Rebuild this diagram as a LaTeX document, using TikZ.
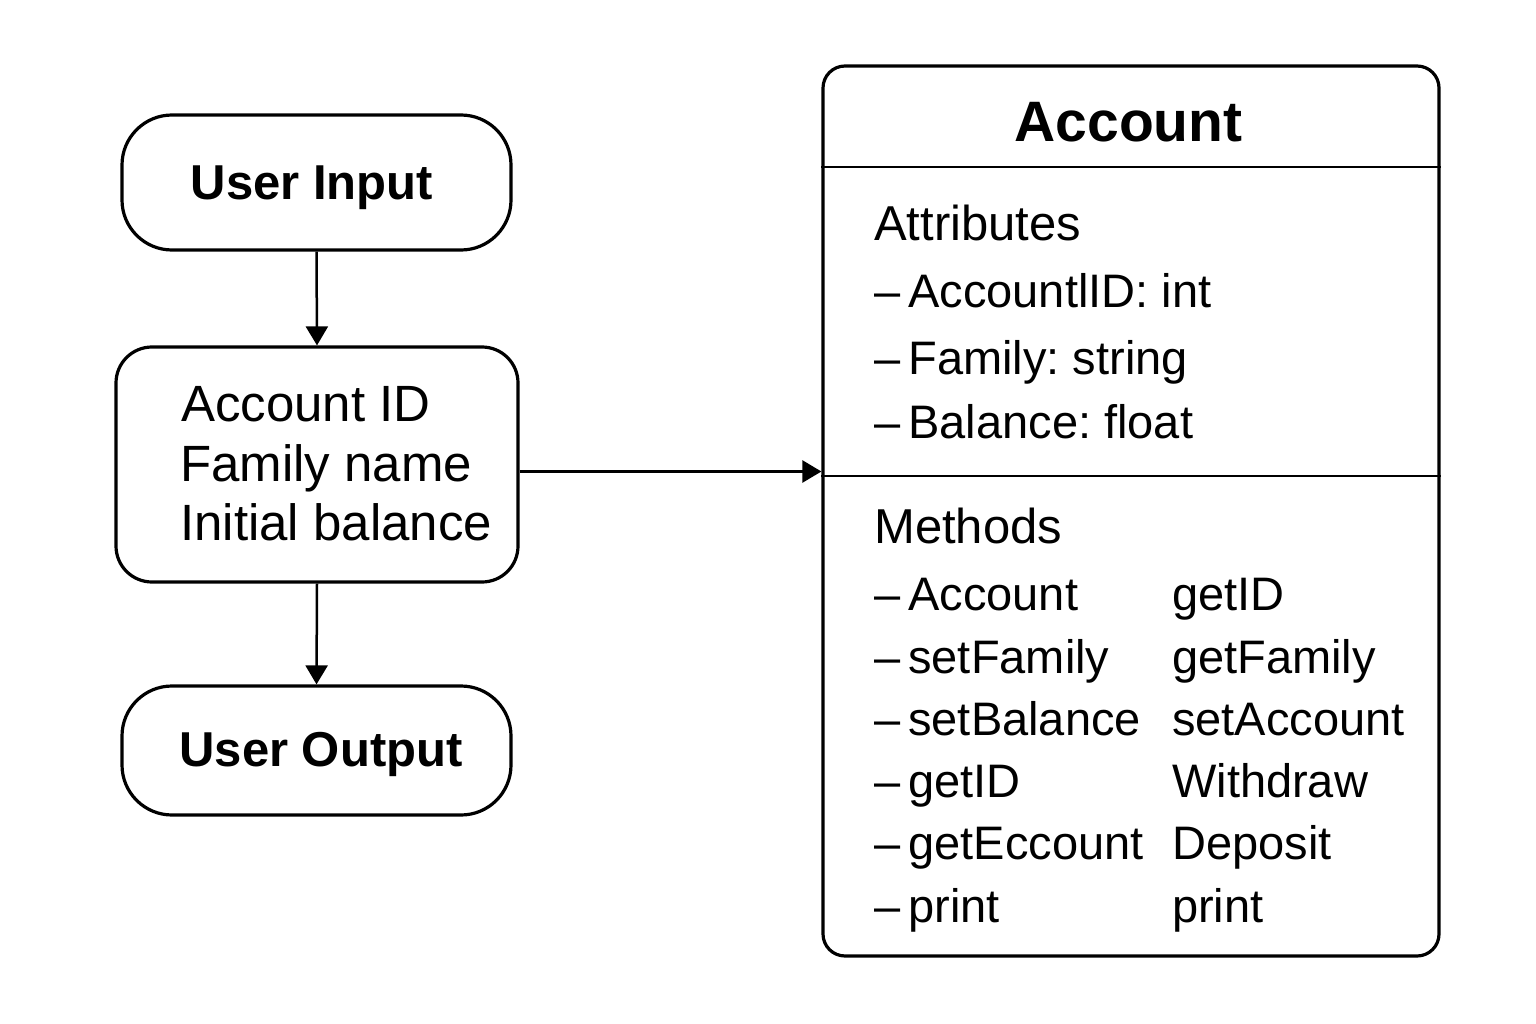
\documentclass[tikz,border=0pt]{standalone}
\usepackage{fontspec}
\setmainfont{Liberation Sans}
\usetikzlibrary{arrows.meta}
\frenchspacing
\newcommand{\itemdash}{–\hspace{8pt}}
\begin{document}
\frenchspacing
\begin{tikzpicture}[x=1pt,y=-1pt,
  boxline/.style={draw=black, line width=3.2pt, inner sep=0pt},
  arr/.style={line width=2.5pt, -{Triangle[length=19pt,width=22pt]}},
  sepline/.style={line width=2.8pt},
  lbl/.style={anchor=base west, inner sep=0pt, font=\fontsize{47}{56}\selectfont},
  hdr/.style={anchor=base west, inner sep=0pt, font=\fontsize{49}{58}\selectfont},
  midtxt/.style={anchor=base west, inner sep=0pt, font=\fontsize{51}{60}\selectfont},
  boldtxt/.style={anchor=base, inner sep=0pt, font=\bfseries\fontsize{49}{58}\selectfont},
  titletxt/.style={anchor=base, inner sep=0pt, font=\bfseries\fontsize{57}{66}\selectfont}
]
\fill[white] (0,0) rectangle (1536,1024);
\useasboundingbox (0,0) rectangle (1536,1024);

% left column boxes
\node[boxline, rounded corners=50pt, minimum width=389pt, minimum height=135pt] (ui) at (316.5,182.5) {};
\node[boldtxt] (uitxt) at (312,200) {User Input};

\node[boxline, rounded corners=36pt, minimum width=402pt, minimum height=235pt] (mid) at (317,464.5) {};
\node[midtxt] (m1) at (181,421) {Account ID};
\node[midtxt] (m2) at (180,481) {Family name};
\node[midtxt] (m3) at (180,540) {Initial balance};

\node[boxline, rounded corners=50pt, minimum width=389pt, minimum height=129pt] (uo) at (316.5,750.5) {};
\node[boldtxt] (uotxt) at (321,766) {User Output};

% class box
\node[boxline, rounded corners=22pt, minimum width=616pt, minimum height=890pt] (acc) at (1131,511) {};
\node[titletxt] (acctitle) at (1128.5,142) {Account};
\coordinate (s1) at (1131,167);
\coordinate (s2) at (1131,476);
\draw[sepline] (s1 -| acc.west) -- (s1 -| acc.east);
\draw[sepline] (s2 -| acc.west) -- (s2 -| acc.east);

\node[hdr] (attr) at (874,241) {Attributes};
\node[lbl] (a1) at (874,308) {\itemdash AccountlID: int};
\node[lbl] (a2) at (874,374) {\itemdash Family: string};
\node[lbl] (a3) at (874,438) {\itemdash Balance: float};

\node[hdr] (meth) at (874,543) {Methods};
\node[lbl] (l1) at (874,610) {\itemdash Account};
\node[lbl] (l2) at (874,673) {\itemdash setFamily};
\node[lbl] (l3) at (874,735) {\itemdash setBalance};
\node[lbl] (l4) at (874,797) {\itemdash getID};
\node[lbl] (l5) at (874,859) {\itemdash getEccount};
\node[lbl] (l6) at (874,922) {\itemdash print};
\node[lbl] (r1) at (1172,610) {getID};
\node[lbl] (r2) at (1172,673) {getFamily};
\node[lbl] (r3) at (1172,735) {setAccount};
\node[lbl] (r4) at (1172,797) {Withdraw};
\node[lbl] (r5) at (1172,859) {Deposit};
\node[lbl] (r6) at (1172,922) {print};

% connectors
\draw[arr] (ui.south) -- (mid.north);
\draw[arr] (mid.south) -- (uo.north);
\coordinate (c1) at ([yshift=-7pt]mid.east);
\draw[arr] (c1) -- (c1 -| acc.west);
\end{tikzpicture}
\end{document}
